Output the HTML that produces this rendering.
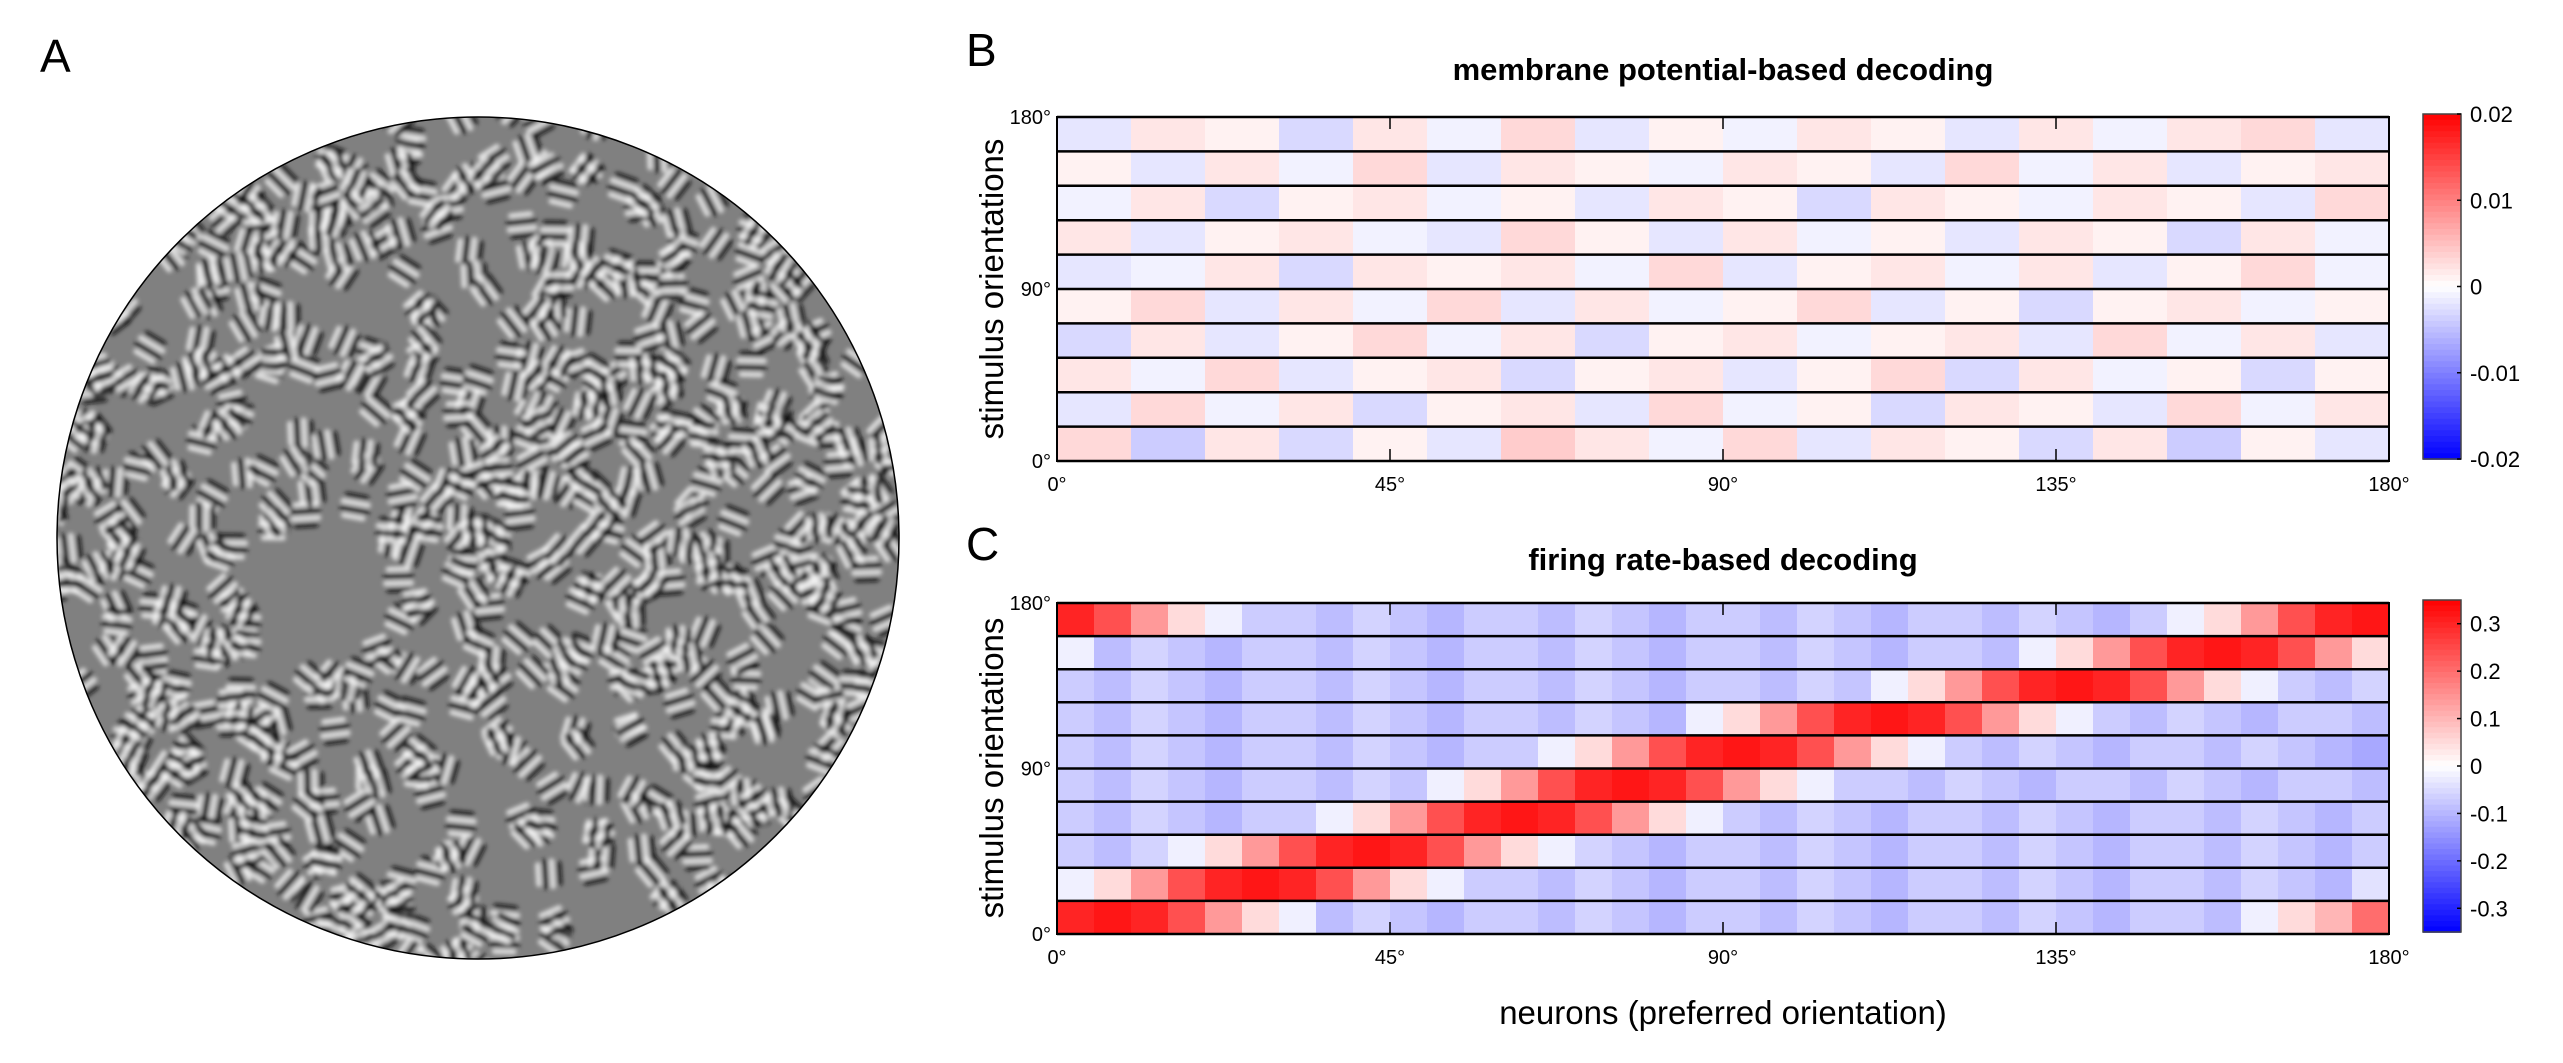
<!DOCTYPE html>
<html><head><meta charset="utf-8">
<style>
html,body{margin:0;padding:0;background:#fff;}
svg{display:block;}
text{font-family:"Liberation Sans",sans-serif;fill:#000;}
</style></head>
<body>
<svg id="fig" width="2563" height="1063" viewBox="0 0 2563 1063" xmlns="http://www.w3.org/2000/svg">
<defs>
<clipPath id="circ"><circle cx="478" cy="538" r="421"/></clipPath>
<filter id="blur" x="-20%" y="-20%" width="140%" height="140%"><feGaussianBlur stdDeviation="2.2"/></filter>
</defs>
<text x="40" y="72" font-size="46">A</text>
<g>
<circle cx="478" cy="538" r="421" fill="#808080"/>
<g id="tex" clip-path="url(#circ)" filter="url(#blur)"></g>
<circle cx="478" cy="538" r="421" fill="none" stroke="#000" stroke-width="1.5"/>
</g>
<text x="966" y="66" font-size="46">B</text>
<text x="966" y="560" font-size="46">C</text>
<text x="1723" y="80" font-size="31" font-weight="bold" text-anchor="middle">membrane potential-based decoding</text>
<text x="1723" y="570" font-size="31" font-weight="bold" text-anchor="middle">firing rate-based decoding</text>
<text transform="translate(1003,289) rotate(-90)" font-size="33" text-anchor="middle">stimulus orientations</text>
<text transform="translate(1003,768) rotate(-90)" font-size="33" text-anchor="middle">stimulus orientations</text>
<text x="1723" y="1024" font-size="33" text-anchor="middle">neurons (preferred orientation)</text>
<g id="panelB"></g>
<g id="panelC"></g>
</svg>
<script>
// ---- data ----
const xTicks = [0, 45, 90, 135, 180];
const xTickLabels = ["0°", "45°", "90°", "135°", "180°"];
const yTicks = [0, 90, 180];
const yTickLabels = ["0°", "90°", "180°"];
const cbTicksB = [-0.02, -0.01, 0, 0.01, 0.02];
const cbTickLabelsB = ["-0.02", "-0.01", "0", "0.01", "0.02"];
const cbTicksC = [-0.3, -0.2, -0.1, 0, 0.1, 0.2, 0.3];
const cbTickLabelsC = ["-0.3", "-0.2", "-0.1", "0", "0.1", "0.2", "0.3"];
// rows listed from bottom (0°) to top; 18 bins of 10° for panel B
const valuesB = [
[0.003,-0.004,0.002,-0.003,0.001,-0.002,0.004,0.002,-0.001,0.003,-0.002,0.002,0.001,-0.003,0.002,-0.004,0.001,-0.002],
[-0.002,0.003,-0.001,0.002,-0.003,0.001,0.002,-0.002,0.003,-0.001,0.001,-0.003,0.002,0.001,-0.002,0.003,-0.001,0.002],
[0.002,-0.001,0.003,-0.002,0.001,0.002,-0.003,0.001,0.002,-0.002,0.001,0.003,-0.003,0.002,-0.001,0.001,-0.003,0.001],
[-0.003,0.002,-0.002,0.001,0.003,-0.001,0.002,-0.003,0.001,0.002,-0.001,0.001,0.002,-0.002,0.003,-0.001,0.002,-0.002],
[0.001,0.003,-0.002,0.002,-0.001,0.003,-0.002,0.002,-0.001,0.001,0.003,-0.002,0.001,-0.003,0.001,0.002,-0.001,0.001],
[-0.002,-0.001,0.002,-0.003,0.002,0.001,0.002,-0.001,0.003,-0.002,0.001,0.002,-0.001,0.002,-0.002,0.001,0.003,-0.001],
[0.002,-0.002,0.001,0.002,-0.001,-0.002,0.003,0.001,-0.002,0.002,-0.001,0.001,-0.002,0.002,0.001,-0.003,0.002,-0.001],
[-0.001,0.002,-0.003,0.001,0.002,-0.001,0.001,-0.002,0.002,0.001,-0.003,0.002,0.001,-0.001,0.002,0.001,-0.002,0.003],
[0.001,-0.002,0.002,-0.001,0.003,-0.002,0.002,0.001,-0.001,0.002,0.001,-0.002,0.003,-0.001,0.002,-0.002,0.001,0.002],
[-0.002,0.002,0.001,-0.003,0.002,-0.001,0.003,-0.002,0.001,-0.001,0.002,0.001,-0.002,0.002,-0.001,0.002,0.003,-0.002]
];
// rows from bottom (0°) to top; 36 bins of 5° for panel C
const valuesC = [
[0.3,0.32,0.3,0.24,0.14,0.05,-0.02,-0.09,-0.06,-0.08,-0.1,-0.07,-0.07,-0.09,-0.06,-0.08,-0.1,-0.07,-0.07,-0.09,-0.06,-0.08,-0.1,-0.07,-0.07,-0.09,-0.06,-0.08,-0.1,-0.07,-0.07,-0.09,-0.02,0.05,0.1,0.2],
[-0.02,0.05,0.14,0.24,0.3,0.32,0.3,0.24,0.14,0.05,-0.02,-0.07,-0.07,-0.09,-0.06,-0.08,-0.1,-0.07,-0.07,-0.09,-0.06,-0.08,-0.1,-0.07,-0.07,-0.09,-0.06,-0.08,-0.1,-0.07,-0.07,-0.09,-0.06,-0.08,-0.1,-0.04],
[-0.07,-0.09,-0.06,-0.02,0.05,0.14,0.24,0.3,0.32,0.3,0.24,0.14,0.05,-0.02,-0.06,-0.08,-0.1,-0.07,-0.07,-0.09,-0.06,-0.08,-0.1,-0.07,-0.07,-0.09,-0.06,-0.08,-0.1,-0.07,-0.07,-0.09,-0.06,-0.08,-0.1,-0.07],
[-0.07,-0.09,-0.06,-0.08,-0.1,-0.07,-0.07,-0.02,0.05,0.14,0.24,0.3,0.32,0.3,0.24,0.14,0.05,-0.02,-0.07,-0.09,-0.06,-0.08,-0.1,-0.07,-0.07,-0.09,-0.06,-0.08,-0.1,-0.07,-0.07,-0.09,-0.06,-0.08,-0.1,-0.07],
[-0.07,-0.09,-0.06,-0.08,-0.1,-0.07,-0.07,-0.09,-0.06,-0.08,-0.02,0.05,0.14,0.24,0.3,0.32,0.3,0.24,0.14,0.05,-0.02,-0.07,-0.07,-0.09,-0.06,-0.08,-0.1,-0.07,-0.07,-0.09,-0.06,-0.08,-0.1,-0.07,-0.07,-0.09],
[-0.07,-0.09,-0.06,-0.08,-0.1,-0.07,-0.07,-0.09,-0.06,-0.08,-0.1,-0.07,-0.07,-0.02,0.05,0.14,0.24,0.3,0.32,0.3,0.24,0.14,0.05,-0.02,-0.07,-0.09,-0.06,-0.08,-0.1,-0.07,-0.07,-0.09,-0.06,-0.08,-0.1,-0.12],
[-0.07,-0.09,-0.06,-0.08,-0.1,-0.07,-0.07,-0.09,-0.06,-0.08,-0.1,-0.07,-0.07,-0.09,-0.06,-0.08,-0.1,-0.02,0.05,0.14,0.24,0.3,0.32,0.3,0.24,0.14,0.05,-0.02,-0.07,-0.09,-0.06,-0.08,-0.1,-0.07,-0.07,-0.09],
[-0.07,-0.09,-0.06,-0.08,-0.1,-0.07,-0.07,-0.09,-0.06,-0.08,-0.1,-0.07,-0.07,-0.09,-0.06,-0.08,-0.1,-0.07,-0.07,-0.09,-0.06,-0.08,-0.02,0.05,0.14,0.24,0.3,0.32,0.3,0.24,0.14,0.05,-0.02,-0.07,-0.09,-0.06],
[-0.02,-0.09,-0.06,-0.08,-0.1,-0.07,-0.07,-0.09,-0.06,-0.08,-0.1,-0.07,-0.07,-0.09,-0.06,-0.08,-0.1,-0.07,-0.07,-0.09,-0.06,-0.08,-0.1,-0.07,-0.07,-0.09,-0.02,0.05,0.14,0.24,0.3,0.32,0.3,0.24,0.14,0.05],
[0.3,0.24,0.14,0.05,-0.02,-0.07,-0.07,-0.09,-0.06,-0.08,-0.1,-0.07,-0.07,-0.09,-0.06,-0.08,-0.1,-0.07,-0.07,-0.09,-0.06,-0.08,-0.1,-0.07,-0.07,-0.09,-0.06,-0.08,-0.1,-0.07,-0.02,0.05,0.14,0.24,0.3,0.32]
];
</script>
<script>
const NS = "http://www.w3.org/2000/svg";
function mk(tag, attrs, parent){const e=document.createElementNS(NS,tag);for(const k in attrs)e.setAttribute(k,attrs[k]);parent.appendChild(e);return e;}
function color(v, lim){let t=Math.max(-1,Math.min(1,v/lim));let r,g,b;
 if(t>=0){r=255;g=Math.round(255*(1-t));b=g;}else{b=255;r=Math.round(255*(1+t));g=r;}
 return `rgb(${r},${g},${b})`;}

function drawPanel(gid, values, lim, top, bottom, cbTicks, cbLabels, prefix){
  const g=document.getElementById(gid);
  const L=1057, R=2389;
  const xs=d=>L+(R-L)*d/180;
  const ys=d=>bottom-(bottom-top)*d/180;
  const nRows=values.length;
  const rowH=(bottom-top)/nRows;
  values.forEach((row,ri)=>{
    const nb=row.length, bw=180/nb;
    const rg=mk('g',{},g);
    
    
    row.forEach((v,bi)=>{
      const x0=xs(bi*bw), x1=xs((bi+1)*bw);
      const y1=bottom-ri*rowH, y0=y1-rowH;
      const r=mk('rect',{x:x0,y:y0,width:x1-x0+0.6,height:rowH,fill:color(v,lim)},rg);
      
      
    });
  });
  for(let i=0;i<=nRows;i++){
    const y=bottom-i*rowH;
    const ln=mk('line',{x1:L,x2:R,y1:y,y2:y,stroke:'#000','stroke-width':2.5},g);
    
    
  }
  const fr=mk('rect',{x:L,y:top,width:R-L,height:bottom-top,fill:'none',stroke:'#000','stroke-width':2},g);
  
  
  xTicks.forEach((d,i)=>{
    const x=xs(d);
    mk('line',{x1:x,x2:x,y1:bottom,y2:bottom-12,stroke:'#000','stroke-width':1.5},g);
    mk('line',{x1:x,x2:x,y1:top,y2:top+12,stroke:'#000','stroke-width':1.5},g);
    const t=mk('text',{x:x,y:bottom+30,'font-size':20,'text-anchor':'middle'},g);
    t.textContent=xTickLabels[i];
    
    
  });
  yTicks.forEach((d,i)=>{
    const y=ys(d);
    const t=mk('text',{x:L-6,y:y+7,'font-size':20,'text-anchor':'end'},g);
    t.textContent=yTickLabels[i];
    
    
  });
  const cx0=2423, cx1=2461, ct=top-3, cb=bottom-2;
  const cg=mk('g',{},g);
  
  
  const n=60;
  for(let i=0;i<n;i++){
    const v=lim-(2*lim)*(i+0.5)/n;
    mk('rect',{x:cx0,y:ct+(cb-ct)*i/n,width:cx1-cx0,height:(cb-ct)/n+0.8,fill:color(v,lim)},cg);
  }
  mk('rect',{x:cx0,y:ct,width:cx1-cx0,height:cb-ct,fill:'none',stroke:'#444','stroke-width':1.5},cg);
  const cys=v=>cb-(cb-ct)*(v+lim)/(2*lim);
  cbTicks.forEach((v,i)=>{
    const y=cys(v);
    mk('line',{x1:cx1-4,x2:cx1,y1:y,y2:y,stroke:'#000','stroke-width':1.5},cg);
    const t=mk('text',{x:cx1+9,y:y+8,'font-size':22},cg);
    t.textContent=cbLabels[i];
    
    
  });
}
drawPanel('panelB', valuesB, 0.02, 117, 461, cbTicksB, cbTickLabelsB, 'b');
drawPanel('panelC', valuesC, 0.35, 603, 934, cbTicksC, cbTickLabelsC, 'c');

// decorative texture for orientation map (not chart data)
(function(){
  const tex=document.getElementById('tex');
  let s=12345;const rnd=()=>{s=(s*1103515245+12345)%2147483648;return s/2147483648;};
  const empty=[[320,600,75],[380,300,35],[270,420,30]];
  let placed=0,tries=0;
  while(placed<700&&tries<6000){
    tries++;
    const a=rnd()*2*Math.PI, rr=Math.sqrt(rnd())*430;
    const cx=478+rr*Math.cos(a), cy=538+rr*Math.sin(a);
    if(empty.some(e=>Math.hypot(cx-e[0],cy-e[1])<e[2]))continue;
    placed++;
    const ang=rnd()*180;
    const grp=mk('g',{transform:`translate(${cx.toFixed(1)},${cy.toFixed(1)}) rotate(${ang.toFixed(1)})`},tex);
    const cols=['#111','#f4f4f4','#111','#f4f4f4'];
    cols.forEach((c,k)=>{
      const off=(k-1.5)*7;
      const len=34-Math.abs(k-1.5)*6;
      mk('rect',{x:-len/2,y:off-2.7,width:len,height:5.4,rx:2.7,fill:c,opacity:0.8},grp);
    });
  }
})();
</script>
</body></html>
